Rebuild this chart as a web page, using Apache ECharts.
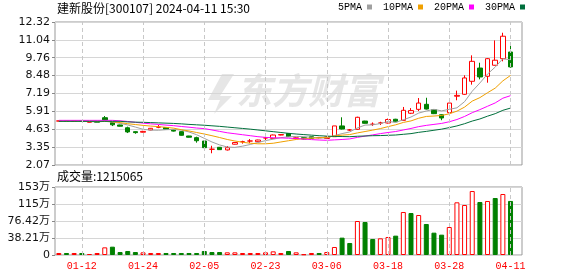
<!DOCTYPE html>
<html><head><meta charset="utf-8">
<script src="https://cdn.jsdelivr.net/npm/echarts@6/dist/echarts.min.js"></script>
<style>html,body{margin:0;padding:0;background:#fff}#c{width:578px;height:276px}</style>
</head><body><div id="c"></div>
<script>
// ---- data ----
const dates = ['01-09','01-10','01-11','01-12','01-15','01-16','01-17','01-18','01-19','01-22',
  '01-23','01-24','01-25','01-26','01-29','01-30','01-31','02-01','02-02','02-05',
  '02-06','02-07','02-08','02-19','02-20','02-21','02-22','02-23','02-26','02-27',
  '02-28','02-29','03-01','03-04','03-05','03-06','03-07','03-08','03-11','03-12',
  '03-13','03-14','03-15','03-18','03-19','03-20','03-21','03-22','03-25','03-26',
  '03-27','03-28','03-29','04-01','04-02','04-03','04-08','04-09','04-10','04-11'];
const openP = [5.22,5.22,5.20,5.21,5.14,5.15,5.46,5.11,4.94,4.74,
  4.46,4.42,4.58,4.78,4.75,4.57,4.46,4.15,4.03,3.79,
  3.20,3.34,3.15,3.56,3.74,3.79,3.74,4.01,3.98,4.22,
  4.33,3.97,4.03,4.10,4.03,3.97,4.10,4.87,4.58,4.63,
  5.22,4.99,5.08,5.08,5.35,5.27,5.78,6.06,6.42,6.03,
  5.67,5.82,7.00,7.14,8.07,9.02,8.43,9.22,9.69,10.17];
const closeP = [5.23,5.20,5.21,5.20,5.15,5.14,5.30,4.95,4.85,4.44,
  4.39,4.48,4.70,4.78,4.64,4.50,4.20,4.06,3.81,3.31,
  3.20,3.17,3.31,3.68,3.74,3.79,3.86,4.01,4.22,4.25,
  4.10,4.02,3.93,3.98,4.03,4.08,4.87,4.65,4.58,5.49,
  5.06,4.99,5.08,5.33,5.17,5.99,5.97,6.51,6.08,5.75,
  5.44,6.51,7.06,8.31,9.50,8.38,9.69,9.58,11.30,9.10];
const lowP = [5.20,5.15,5.18,5.18,5.13,5.12,5.28,4.86,4.83,4.36,
  4.31,4.40,4.56,4.71,4.62,4.47,4.18,4.04,3.67,3.24,
  2.91,3.15,3.11,3.54,3.60,3.65,3.72,3.81,3.96,4.20,
  4.08,3.95,3.91,3.96,3.98,3.93,4.08,4.62,4.52,4.60,
  5.04,4.87,4.94,5.05,5.15,5.25,5.72,5.94,6.05,5.72,
  5.28,5.75,6.71,7.10,7.83,8.21,7.97,9.20,9.50,9.05];
const highP = [5.24,5.23,5.23,5.22,5.17,5.16,5.58,5.13,4.96,4.82,
  4.48,4.52,4.72,4.94,4.78,4.60,4.48,4.16,4.10,3.80,
  3.45,3.36,3.43,3.70,3.81,3.93,3.88,4.15,4.25,4.29,
  4.36,4.05,4.05,4.12,4.08,4.12,4.87,5.49,4.65,5.53,
  5.24,5.12,5.17,5.40,5.38,6.23,6.15,6.87,6.89,6.08,
  5.69,6.51,7.40,8.50,9.93,9.40,9.74,11.00,11.55,10.62];
const volumes = [45000,45000,45000,45000,22000,45000,172000,187000,67000,90000,
  67000,60000,45000,45000,45000,45000,45000,45000,45000,90000,
  67000,67000,60000,60000,45000,45000,45000,60000,82000,45000,
  90000,60000,15000,45000,45000,67000,180000,390000,270000,764000,
  742000,360000,375000,405000,435000,966000,944000,899000,697000,502000,
  457000,629000,1184000,1124000,1438000,1191000,1214000,1281000,1371000,1215065];
const volumeUp = [1,0,1,0,1,1,1,0,0,0, 0,1,1,1,0,0,0,0,0,0, 0,0,1,1,1,1,1,1,1,1,
  0,1,1,1,0,1,1,0,0,1, 0,0,1,1,0,1,0,1,0,0, 0,1,1,1,1,0,1,0,1,0];
const ma5 = [5.22,5.22,5.22,5.21,5.18,5.16,5.20,5.15,5.06,4.94,
  4.79,4.63,4.57,4.56,4.60,4.62,4.57,4.44,4.24,3.98,
  3.72,3.51,3.36,3.33,3.42,3.54,3.68,3.82,3.92,4.03,
  4.09,4.12,4.10,4.06,4.01,4.01,4.18,4.32,4.44,4.73,
  4.93,4.95,5.04,5.19,5.13,5.31,5.51,5.79,5.94,6.06,
  5.95,6.06,6.17,6.61,7.36,7.95,8.59,9.09,9.69,9.61];
const ma10 = [5.22,5.22,5.22,5.22,5.21,5.20,5.20,5.17,5.11,5.03,
  4.97,4.91,4.86,4.82,4.77,4.71,4.60,4.51,4.40,4.29,
  4.17,4.04,3.90,3.79,3.70,3.63,3.59,3.59,3.63,3.72,
  3.81,3.90,3.96,3.99,4.02,4.05,4.15,4.21,4.25,4.37,
  4.47,4.57,4.68,4.82,4.95,5.12,5.23,5.42,5.55,5.58,
  5.62,5.74,5.93,6.22,6.65,6.90,7.25,7.58,8.10,8.49];
const ma20 = [5.27,5.27,5.27,5.27,5.27,5.27,5.27,5.27,5.24,5.19,
  5.13,5.07,5.02,4.98,4.93,4.89,4.83,4.78,4.72,4.68,
  4.58,4.48,4.38,4.31,4.24,4.17,4.10,4.05,4.02,4.01,
  3.99,3.97,3.93,3.89,3.86,3.84,3.87,3.90,3.94,4.05,
  4.14,4.23,4.32,4.40,4.47,4.58,4.69,4.82,4.91,4.98,
  5.05,5.17,5.33,5.55,5.82,6.04,6.28,6.52,6.86,7.04];
const ma30 = [5.20,5.20,5.20,5.20,5.20,5.20,5.20,5.20,5.20,5.16,
  5.14,5.13,5.11,5.09,5.07,5.05,5.02,4.98,4.95,4.92,
  4.88,4.84,4.79,4.74,4.69,4.64,4.58,4.52,4.46,4.40,
  4.34,4.29,4.25,4.21,4.17,4.14,4.12,4.11,4.10,4.13,
  4.15,4.17,4.18,4.20,4.22,4.27,4.32,4.41,4.48,4.56,
  4.64,4.75,4.87,5.03,5.22,5.37,5.57,5.75,5.99,6.15];
const priceTicks = [2.07,3.35,4.63,5.91,7.19,8.48,9.76,11.04,12.32];
const volumeTicks = [0,382100,764200,1146300,1528400];
const volumeTickLabels = ['0','38.21万','76.42万','115万','153万'];
const labelDates = ['01-12','01-24','02-05','02-23','03-06','03-18','03-28','04-11'];
const titleText = '建新股份[300107] 2024-04-11 15:30';
const volumeTitle = '成交量:1215065';
const maNames = ['5PMA','10PMA','20PMA','30PMA'];

// ---- chart ----
const RED = '#ff0000', GREEN = '#008000';
const maColors = ['#a0a0a0','#f0a000','#ff00ff','#006f3c'];
const cats = dates.concat(['']);
const kData = dates.map((d,i)=>[openP[i],closeP[i],lowP[i],highP[i]]);
const volData = volumes.map((v,i)=>({
  value: v,
  itemStyle: volumeUp[i] ? {color:'#ffffff',borderColor:RED,borderWidth:1}
                         : {color:GREEN,borderColor:GREEN,borderWidth:1}
}));
const vMark = {
  silent:true, symbol:'none', animation:false,
  label:{show:false},
  lineStyle:{color:'#c8c8c8',type:[4,3],width:1},
  data: labelDates.map(d=>({xAxis:d}))
};
const axisFont = {fontFamily:'DejaVu Sans',fontSize:11,color:'#111'};
const chart = echarts.init(document.getElementById('c'), null, {renderer:'canvas'});
chart.setOption({
  animation:false,
  backgroundColor:'#ffffff',
  graphic:[
    {type:'text', x:57, y:2, z:10,
     style:{text:titleText, fontFamily:'Noto Sans CJK SC', fontSize:12, fill:'#000'}},
    {type:'text', x:57, y:170, z:10,
     style:{text:volumeTitle, fontFamily:'Noto Sans CJK SC', fontSize:12, fill:'#000'}},
    {type:'text', x:236, y:72, z:0,
     style:{text:'东方财富', fontFamily:'Noto Sans CJK SC', fontSize:36, fontWeight:'bold', fontStyle:'italic', fill:'#e6e6e6'}},
    {type:'polygon', z:0, shape:{points:[[222,74],[234,74],[220,96],[232,96],[214,114],[220,100],[208,100]]},
     style:{fill:'#e6e6e6'}}
  ],
  legend:{
    data:maNames, left:338, top:2, align:'right', icon:'rect',
    itemWidth:5, itemHeight:5, itemGap:11, padding:0,
    textStyle:{fontFamily:'Liberation Mono',fontSize:10,color:'#000'},
    selectedMode:false
  },
  grid:[
    {left:55, top:22, width:467, height:143, show:true, borderColor:'#999', borderWidth:1},
    {left:55, top:187, width:467, height:68, show:true, borderColor:'#999', borderWidth:1}
  ],
  xAxis:[
    {type:'category', gridIndex:0, data:cats, boundaryGap:true,
     axisLine:{show:false}, axisTick:{show:false}, axisLabel:{show:false}, splitLine:{show:false}},
    {type:'category', gridIndex:1, data:cats, boundaryGap:true,
     axisLine:{show:false}, axisTick:{show:false}, splitLine:{show:false},
     axisLabel:{show:true, interval:(i,v)=>labelDates.indexOf(v)>=0, margin:6,
       color:RED, fontFamily:'Liberation Mono', fontSize:10}}
  ],
  yAxis:[
    {type:'value', gridIndex:0, min:priceTicks[0], max:priceTicks[priceTicks.length-1],
     axisLine:{show:false},
     axisTick:{show:true, length:3, lineStyle:{color:'#888'}, customValues:priceTicks},
     axisLabel:{customValues:priceTicks, margin:5, ...axisFont, formatter:v=>v.toFixed(2)},
     splitLine:{show:true, lineStyle:{color:'#d6d6d6',width:1}}},
    {type:'value', gridIndex:1, min:0, max:volumeTicks[volumeTicks.length-1],
     axisLine:{show:false},
     axisTick:{show:true, length:3, lineStyle:{color:'#888'}, customValues:volumeTicks},
     axisLabel:{customValues:volumeTicks, margin:5, ...axisFont,
       fontFamily:'DejaVu Sans, Noto Sans CJK SC',
       formatter:v=>{const k=volumeTicks.indexOf(v); return k>=0?volumeTickLabels[k]:'';}},
     splitLine:{show:true, lineStyle:{color:'#d6d6d6',width:1}}}
  ],
  series:[
    {type:'candlestick', name:'K', xAxisIndex:0, yAxisIndex:0, data:kData, barWidth:5,
     itemStyle:{color:'#ffffff', color0:GREEN, borderColor:RED, borderColor0:GREEN,
       borderColorDoji:RED, borderWidth:1},
     markLine:vMark},
    {type:'line', name:maNames[0], xAxisIndex:0, yAxisIndex:0, data:ma5, symbol:'none',
     lineStyle:{width:1,color:maColors[0]}, itemStyle:{color:maColors[0]}},
    {type:'line', name:maNames[1], xAxisIndex:0, yAxisIndex:0, data:ma10, symbol:'none',
     lineStyle:{width:1,color:maColors[1]}, itemStyle:{color:maColors[1]}},
    {type:'line', name:maNames[2], xAxisIndex:0, yAxisIndex:0, data:ma20, symbol:'none',
     lineStyle:{width:1,color:maColors[2]}, itemStyle:{color:maColors[2]}},
    {type:'line', name:maNames[3], xAxisIndex:0, yAxisIndex:0, data:ma30, symbol:'none',
     lineStyle:{width:1,color:maColors[3]}, itemStyle:{color:maColors[3]}},
    {type:'bar', name:'VOL', xAxisIndex:1, yAxisIndex:1, data:volData, barWidth:5,
     markLine:vMark}
  ]
});
</script></body></html>
